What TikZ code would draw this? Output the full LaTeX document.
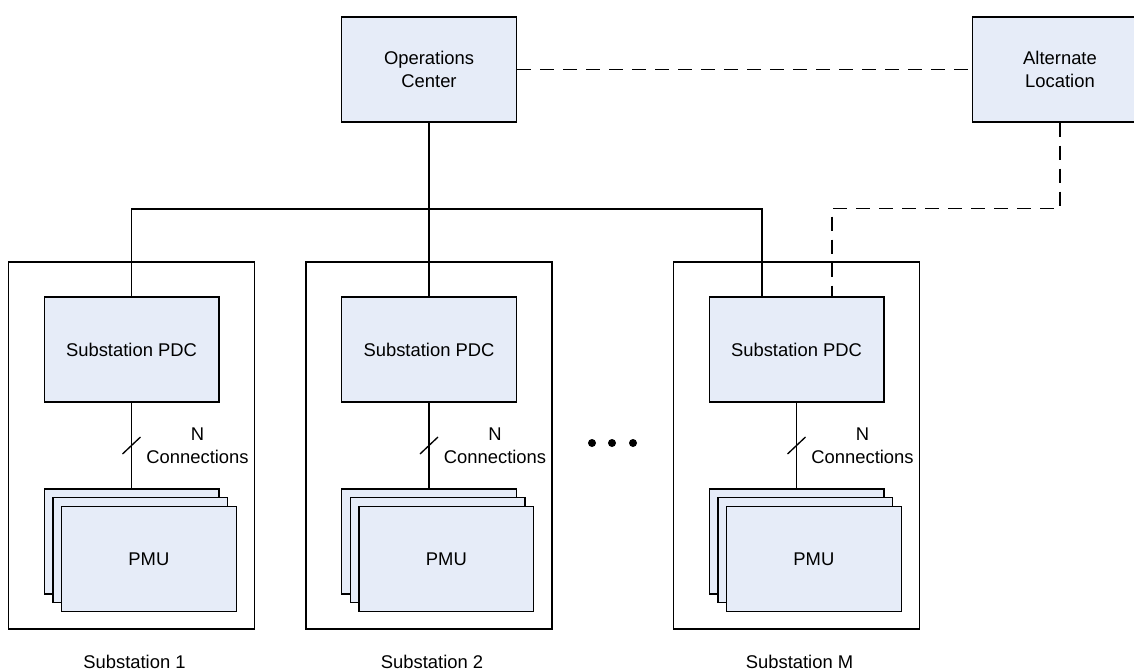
\documentclass[tikz,border=0pt]{standalone}
\usepackage{fontspec}
\setmainfont{Liberation Sans}
\usepackage{xcolor}
\usetikzlibrary{
    calc,
    positioning
}
\definecolor{unitfill}{RGB}{230,236,248}
\tikzset{
    unit/.style={draw, fill=unitfill, line width=1pt, minimum width=131pt, minimum height=78.75pt,
        inner sep=0pt, align=center, font=\fontsize{13.8pt}{17.25pt}\selectfont},
    site/.style={draw, line width=1pt, minimum width=184.5pt, minimum height=275.25pt, inner sep=0pt},
    note/.style={align=center, inner sep=0pt, font=\fontsize{13.8pt}{17.25pt}\selectfont},
    wire/.style={line width=1pt},
    backup/.style={line width=1.1pt, dash pattern=on 10.5pt off 6.75pt},
    dot/.style={circle, fill, inner sep=0pt, minimum size=6pt}
}

\begin{document}
\begin{tikzpicture}[x=0.75pt, y=-0.75pt]
    \useasboundingbox (0, 0) rectangle (1134, 671);

    \node[unit] (ops) at (429, 69.5) {Operations\\Center};
    \node[unit] (alt) at (1060, 69.5) {Alternate\\Location};

    \foreach \i/\cx/\lbl in {1/131.5/1, 2/429/2, 3/796.5/M} {
        \node[site] (sub\i) at (\cx, 445.5) {};
        \node[unit] (pdc\i) at (\cx, 349.5) {Substation PDC};
        \node[unit] (pmuc\i) at (\cx, 541.5) {};
        \node[unit] (pmub\i) at ($(pmuc\i)+(8.7, 8.7)$) {};
        \node[unit] (pmua\i) at ($(pmuc\i)+(17.4, 17.4)$) {PMU};
        \draw[wire] (pdc\i.south) -- (pmuc\i.north);
        \draw[wire] ($(pdc\i.south)!0.5!(pmuc\i.north)$) ++(-9, 8.5) -- ++(18, -17);
        \node[note] (nconn\i) at ($(pdc\i.south)+(66, 43)$) {N\\Connections};
        \node[note] (cap\i) at ($(sub\i.south)+(3, 32.5)$) {Substation \lbl};
    }

    \foreach \d in {592, 612, 633}
        \node[dot] (dot\d) at (\d, 443) {};

    % uplinks to the operations center
    \coordinate (busr) at (762, 209);
    \draw[wire] (ops.south) -- (pdc2.north);
    \draw[wire] (pdc1.north) |- (busr) -- (busr |- pdc3.north);

    % backup links
    \coordinate (tap) at ($(pdc3.north)+(35.5, 0)$);
    \draw[backup] (ops.east) -- (alt.west);
    \draw[backup] (alt.south) |- ($(tap)+(0, -88)$) -- (tap);
\end{tikzpicture}
\end{document}
